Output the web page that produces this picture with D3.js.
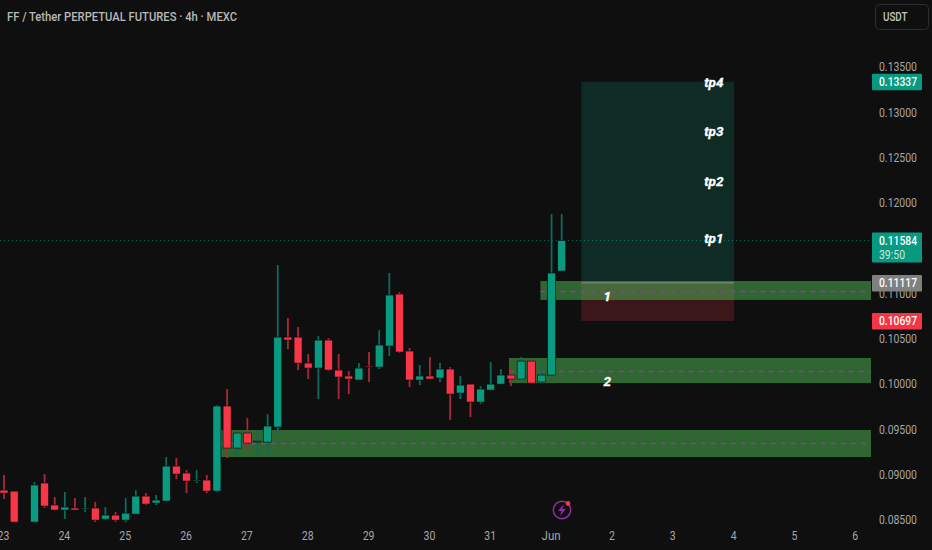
<!DOCTYPE html>
<html>
<head>
<meta charset="utf-8">
<script src="https://cdn.jsdelivr.net/npm/d3@7"></script>
<style>
  html, body { margin: 0; padding: 0; background: #0f0f0f; overflow: hidden; }
  text { font-family: Roboto, sans-serif; }
</style>
</head>
<body>
<div id="chart"></div>
<script>
// candle values, one entry per 4h bar (null = no bar visible)
var opens = [0.08830,0.08819,null,0.08477,0.08908,0.08665,0.08610,0.08632,0.08621,0.08632,0.08510,0.08554,0.08499,0.08565,0.08764,0.08687,0.08709,0.09095,0.09018,0.08930,0.08941,0.08819,0.09758,0.09294,0.09460,0.09360,0.09360,0.09526,0.10519,0.10519,0.10232,0.10177,0.10486,0.10155,0.10089,0.10045,0.10199,0.10188,0.10420,0.10994,0.10365,0.10045,0.10089,0.10067,0.10166,0.09901,0.10000,0.09802,0.09934,0.10000,0.10100,0.10056,0.10254,0.10023,0.10100,0.11248];
var closes = [0.08797,0.08477,null,0.08886,0.08654,0.08610,0.08643,0.08610,0.08632,0.08499,0.08554,0.08499,0.08576,0.08764,0.08676,0.08720,0.09095,0.09007,0.08930,0.08941,0.08819,0.09758,0.09294,0.09460,0.09349,0.09371,0.09537,0.10519,0.10486,0.10232,0.10177,0.10486,0.10155,0.10078,0.10056,0.10177,0.10188,0.10431,0.10983,0.10354,0.10045,0.10089,0.10056,0.10166,0.09890,0.09989,0.09802,0.09945,0.10000,0.10100,0.10056,0.10254,0.10011,0.10100,0.11226,0.11584];
var highs = [0.08996,0.08819,null,0.08919,0.09007,0.08753,0.08808,0.08742,0.08753,0.08699,0.08643,0.08588,0.08742,0.08830,0.08797,0.08775,0.09195,0.09184,0.09051,0.09051,0.08996,0.09769,0.09945,0.09460,0.09625,0.09493,0.09669,0.11314,0.10729,0.10630,0.10332,0.10530,0.10508,0.10332,0.10144,0.10232,0.10354,0.10596,0.11226,0.11016,0.10398,0.10210,0.10298,0.10232,0.10188,0.10089,0.10000,0.09978,0.10243,0.10166,0.10177,0.10298,0.10276,0.10243,0.11877,0.11877];
var lows = [0.08731,0.08477,null,0.08477,0.08632,0.08610,0.08510,0.08610,0.08588,0.08477,0.08499,0.08477,0.08477,0.08565,0.08665,0.08665,0.08709,0.08952,0.08797,0.08908,0.08797,0.08808,0.09184,0.09206,0.09283,0.09206,0.09206,0.09449,0.10387,0.10155,0.10056,0.09835,0.10144,0.09835,0.09890,0.10045,0.10023,0.10166,0.10309,0.10343,0.09967,0.09989,0.10056,0.10023,0.09603,0.09835,0.09636,0.09780,0.09934,0.10000,0.09978,0.10056,0.10011,0.10011,0.10100,0.11248];

var priceTicks = [0.135,0.13,0.125,0.12,0.115,0.11,0.105,0.10,0.095,0.09,0.085];
var dayLabels = ["23","24","25","26","27","28","29","30","31","Jun","2","3","4","5","6"];
var dayBars = [0,6,12,18,24,30,36,42,48,54,60,66,72,78,84];

// support zones (green rectangles)
var zoneTops = [0.11138,0.10288,0.09493];
var zoneBottoms = [0.10929,0.10011,0.09195];
var zoneMids = [0.11028,0.10144,0.09349];
var zoneStarts = [52.9,49.8,21.4];

// long position box
var entryPrice = 0.11117, targetPrice = 0.13337, stopPrice = 0.10697, lastPrice = 0.11584;
var boxStart = 56.93, boxEnd = 72;

var noteTexts = ["tp4","tp3","tp2","tp1","1","2"];
var notePrices = [0.13335,0.12794,0.12242,0.11613,0.10973,0.10034];
var noteBars = [70,70,70,70,59.5,59.5];

var svgWidth = 932, svgHeight = 550;
var plotRight = 871;
var green = "#089981", red = "#f23645", bg = "#0f0f0f", axisText = "#a6a6a6";

var x = d3.scaleLinear().domain([0, 55]).range([4, 561.7]);
var y = d3.scaleLinear().domain([0.135, 0.085]).range([67, 520]);

var svg = d3.select("#chart").append("svg")
  .attr("width", svgWidth)
  .attr("height", svgHeight)
  .style("display", "block");

svg.append("rect").attr("width", svgWidth).attr("height", svgHeight).attr("fill", bg);

// long/short box
svg.append("rect")
  .attr("x", x(boxStart)).attr("width", x(boxEnd) - x(boxStart))
  .attr("y", y(targetPrice)).attr("height", y(entryPrice) - y(targetPrice))
  .attr("fill", green).attr("fill-opacity", 0.2);
svg.append("rect")
  .attr("x", x(boxStart)).attr("width", x(boxEnd) - x(boxStart))
  .attr("y", y(entryPrice)).attr("height", y(stopPrice) - y(entryPrice))
  .attr("fill", red).attr("fill-opacity", 0.2);

// last price dotted line
svg.append("line")
  .attr("x1", 0).attr("x2", plotRight)
  .attr("y1", y(lastPrice)).attr("y2", y(lastPrice))
  .attr("stroke", green).attr("stroke-opacity", 0.7)
  .attr("stroke-dasharray", "1 3");

// zones
zoneTops.forEach(function(top, i) {
  svg.append("rect")
    .attr("x", x(zoneStarts[i])).attr("width", plotRight - x(zoneStarts[i]))
    .attr("y", y(top)).attr("height", y(zoneBottoms[i]) - y(top))
    .attr("fill", "#4caf50").attr("fill-opacity", 0.55);
  svg.append("line")
    .attr("x1", x(zoneStarts[i])).attr("x2", plotRight)
    .attr("y1", Math.round(y(zoneMids[i])) + 0.5).attr("y2", Math.round(y(zoneMids[i])) + 0.5)
    .attr("stroke", "#a32cc0").attr("stroke-width", 1.5)
    .attr("stroke-dasharray", "5 5");
});

// entry line
svg.append("line")
  .attr("x1", x(boxStart)).attr("x2", x(boxEnd))
  .attr("y1", y(entryPrice)).attr("y2", y(entryPrice))
  .attr("stroke", "#8a8a8a").attr("stroke-width", 1);

// candles
var bars = d3.range(opens.length).filter(function(i) { return opens[i] !== null; });

svg.selectAll(".wick").data(bars).enter().append("line")
  .attr("class", "wick")
  .attr("x1", function(i) { return x(i); })
  .attr("x2", function(i) { return x(i); })
  .attr("y1", function(i) { return y(highs[i]); })
  .attr("y2", function(i) { return y(lows[i]); })
  .attr("stroke", function(i) { return closes[i] >= opens[i] ? "#0d6b5c" : "#a82a3a"; })
  .attr("stroke-width", 1.8);

svg.selectAll(".body").data(bars).enter().append("rect")
  .attr("class", "body")
  .attr("x", function(i) { return x(i) - 4; })
  .attr("width", 8)
  .attr("y", function(i) { return y(Math.max(opens[i], closes[i])); })
  .attr("height", function(i) { return Math.max(1, Math.abs(y(opens[i]) - y(closes[i]))); })
  .attr("fill", function(i) { return closes[i] >= opens[i] ? "#089b80" : "#f93648"; })
  .attr("stroke", "#0a0a0a").attr("stroke-width", 0.6);

// notes on the chart
svg.selectAll(".note").data(noteTexts).enter().append("text")
  .attr("class", "note")
  .attr("x", function(d, i) { return x(noteBars[i]); })
  .attr("y", function(d, i) { return y(notePrices[i]); })
  .attr("dy", "0.35em")
  .attr("text-anchor", "middle")
  .attr("fill", "#ffffff")
  .attr("stroke", "#ffffff").attr("stroke-width", 0.3)
  .attr("font-size", 13.5)
  .attr("font-weight", 700)
  .attr("font-style", "italic")
  .text(function(d) { return d; });

// price axis
var priceAxis = d3.axisRight(y)
  .tickValues(priceTicks)
  .tickSize(0)
  .tickPadding(0)
  .tickFormat(d3.format(".5f"));
var priceG = svg.append("g")
  .attr("transform", "translate(879,0)")
  .call(priceAxis);
priceG.select(".domain").remove();
priceG.selectAll("text")
  .attr("fill", axisText).attr("font-size", 12)
  .attr("textLength", 38).attr("lengthAdjust", "spacingAndGlyphs")
  .style("font-family", "Roboto, sans-serif");

// time axis
var timeAxis = d3.axisBottom(x)
  .tickValues(dayBars)
  .tickSize(0)
  .tickPadding(0)
  .tickFormat(function(d, i) { return dayLabels[i]; });
var timeG = svg.append("g")
  .attr("transform", "translate(-1,531)")
  .call(timeAxis);
timeG.select(".domain").remove();
timeG.selectAll("text")
  .attr("fill", axisText).attr("font-size", 12)
  .attr("textLength", function(d, i) { return dayLabels[i] === "Jun" ? 19 : 5.9 * dayLabels[i].length; })
  .attr("lengthAdjust", "spacingAndGlyphs")
  .style("font-family", "Roboto, sans-serif");

// price tags on the axis
function priceTag(price, color, h) {
  var cy = y(price);
  svg.append("rect")
    .attr("x", 872).attr("width", 50)
    .attr("y", cy - 8).attr("height", h)
    .attr("rx", 1).attr("fill", color);
  svg.append("text")
    .attr("x", 879).attr("y", cy).attr("dy", "0.35em")
    .attr("fill", "#ffffff").attr("font-size", 12).attr("font-weight", 500)
    .attr("textLength", 38).attr("lengthAdjust", "spacingAndGlyphs")
    .text(price.toFixed(5));
}
priceTag(targetPrice, green, 16.5);
priceTag(lastPrice, green, 30);
priceTag(entryPrice, "#808080", 16.5);
priceTag(stopPrice, red, 16.5);

svg.append("text")
  .attr("x", 879).attr("y", y(lastPrice) + 14.5).attr("dy", "0.35em")
  .attr("fill", "#c8e6df").attr("font-size", 12)
  .attr("textLength", 26).attr("lengthAdjust", "spacingAndGlyphs")
  .text("39:50");

// currency button
svg.append("rect")
  .attr("x", 875.5).attr("y", 4.5).attr("width", 53).attr("height", 25).attr("rx", 4)
  .attr("fill", "none").attr("stroke", "#2e2e2e").attr("stroke-width", 1);
svg.append("text")
  .attr("x", 883).attr("y", 17).attr("dy", "0.35em")
  .attr("fill", "#c4c4c4").attr("font-size", 12).attr("font-weight", 500)
  .attr("textLength", 24.5).attr("lengthAdjust", "spacingAndGlyphs")
  .text("USDT");

// title
svg.append("text")
  .attr("x", 7).attr("y", 16.5).attr("dy", "0.35em")
  .attr("fill", "#b8b8b8").attr("font-size", 12).attr("font-weight", 500)
  .attr("textLength", 230).attr("lengthAdjust", "spacingAndGlyphs")
  .text("FF / Tether PERPETUAL FUTURES · 4h · MEXC");

// news icon
var icon = svg.append("g").attr("transform", "translate(562,510)");
icon.append("circle").attr("r", 8.7).attr("fill", "none").attr("stroke", "#8e2ba6").attr("stroke-width", 1.5);
icon.append("path").attr("d", "M2,-6 L-4,1 L-0.5,1 L-2,6 L4,-1 L0.5,-1 Z").attr("fill", "#8e2ba6");
icon.append("circle").attr("cx", 6).attr("cy", -6.5).attr("r", 2.4).attr("fill", red);
</script>
</body>
</html>
